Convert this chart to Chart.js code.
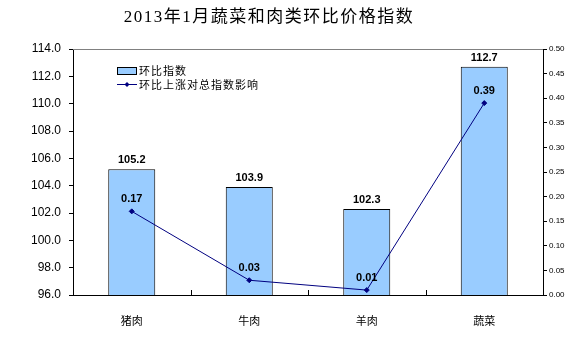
<!DOCTYPE html>
<html lang="zh">
<head>
    <meta charset="UTF-8">
    <title>2013年1月蔬菜和肉类环比价格指数</title>
    <script src="https://cdn.jsdelivr.net/npm/chart.js"></script>
    <style>
        html, body { margin: 0; padding: 0; background: #fff; }
        #wrap { width: 579px; height: 339px; position: relative; }
    </style>
</head>
<body>
    <div id="wrap"><canvas id="priceChart" width="579" height="339"></canvas></div>

    <script>
        // chart data
        const categories = ['猪肉', '牛肉', '羊肉', '蔬菜'];
        const indexValues = [105.2, 103.9, 102.3, 112.7];
        const impactValues = [0.17, 0.03, 0.01, 0.39];
        const titleText = '2013年1月蔬菜和肉类环比价格指数';
        const barLabel = '环比指数';
        const lineLabel = '环比上涨对总指数影响';

        const barFill = '#99CCFF';
        const lineColor = '#000080';
        const cjk = '"Noto Sans CJK SC", sans-serif';
        const latin = '"Liberation Sans", Arial, sans-serif';

        // title, frame, inside ticks, value labels and legend
        const decor = {
            id: 'decor',
            afterDraw(chart) {
                const c = chart.ctx;
                const a = chart.chartArea;
                c.save();

                // title
                c.fillStyle = '#000';
                c.font = '17px "Liberation Serif", "Noto Sans CJK SC", serif';
                c.letterSpacing = '1.5px';
                c.textAlign = 'center';
                c.textBaseline = 'middle';
                c.fillText(titleText, 269, 18);
                c.letterSpacing = '0px';

                // top frame line
                c.strokeStyle = '#808080';
                c.lineWidth = 1;
                c.beginPath();
                c.moveTo(a.left, a.top + 0.5);
                c.lineTo(a.right, a.top + 0.5);
                c.stroke();

                // category separators on x axis
                c.strokeStyle = '#000';
                const xs = chart.scales.x;
                for (let i = 1; i < categories.length; i++) {
                    const x = Math.round((xs.getPixelForValue(i - 1) + xs.getPixelForValue(i)) / 2) + 0.5;
                    c.beginPath();
                    c.moveTo(x, a.bottom);
                    c.lineTo(x, a.bottom - 5);
                    c.stroke();
                }

                // value labels
                c.font = 'bold 11px ' + latin;
                c.fillStyle = '#000';
                chart.getDatasetMeta(1).data.forEach((bar, i) => {
                    c.fillText(indexValues[i].toFixed(1), bar.x, bar.y - 9);
                });
                chart.getDatasetMeta(0).data.forEach((pt, i) => {
                    c.fillText(impactValues[i].toFixed(2), pt.x, pt.y - 12);
                });

                // legend
                c.textAlign = 'left';
                c.font = '11px ' + cjk;
                c.letterSpacing = '1px';
                c.fillStyle = barFill;
                c.fillRect(117.5, 67.5, 19, 7);
                c.strokeStyle = '#000';
                c.strokeRect(117.5, 67.5, 19, 7);
                c.fillStyle = '#000';
                c.fillText(barLabel, 139, 71);

                c.strokeStyle = lineColor;
                c.fillStyle = lineColor;
                c.beginPath();
                c.moveTo(117, 84.5);
                c.lineTo(137, 84.5);
                c.stroke();
                c.beginPath();
                c.moveTo(127, 82);
                c.lineTo(129.5, 84.5);
                c.lineTo(127, 87);
                c.lineTo(124.5, 84.5);
                c.closePath();
                c.fill();
                c.fillStyle = '#000';
                c.fillText(lineLabel, 139, 85);

                c.restore();
            }
        };

        const ctx = document.getElementById('priceChart').getContext('2d');
        new Chart(ctx, {
            data: {
                labels: categories,
                datasets: [
                    {
                        type: 'line',
                        label: lineLabel,
                        data: impactValues,
                        yAxisID: 'y1',
                        borderColor: lineColor,
                        backgroundColor: lineColor,
                        borderWidth: 1,
                        pointStyle: 'rectRot',
                        pointRadius: 2.5,
                        tension: 0,
                        order: 0
                    },
                    {
                        type: 'bar',
                        label: barLabel,
                        data: indexValues,
                        yAxisID: 'y',
                        backgroundColor: barFill,
                        borderColor: '#000',
                        borderWidth: 1,
                        categoryPercentage: 1,
                        barPercentage: 0.4,
                        order: 1
                    }
                ]
            },
            options: {
                responsive: false,
                animation: false,
                devicePixelRatio: 1,
                layout: { padding: { top: 49, left: 0, right: 0, bottom: 0 } },
                plugins: {
                    legend: { display: false },
                    title: { display: false },
                    tooltip: { enabled: false }
                },
                scales: {
                    x: {
                        offset: true,
                        grid: { display: false },
                        border: { color: '#000' },
                        ticks: {
                            color: '#000',
                            padding: 11,
                            font: { family: cjk, size: 11 }
                        },
                        afterFit(scale) { scale.height = 44; }
                    },
                    y: {
                        position: 'left',
                        min: 96,
                        max: 114,
                        grid: { drawOnChartArea: false, tickLength: 4, color: '#000' },
                        border: { color: '#000' },
                        ticks: {
                            stepSize: 2,
                            color: '#000',
                            padding: 8,
                            font: { family: latin, size: 12 },
                            callback: v => v.toFixed(1)
                        },
                        afterFit(scale) { scale.width = 73; }
                    },
                    y1: {
                        position: 'right',
                        min: 0,
                        max: 0.5,
                        grid: { drawOnChartArea: false, tickLength: 4, color: '#000' },
                        border: { color: '#000' },
                        ticks: {
                            stepSize: 0.05,
                            color: '#000',
                            padding: 2,
                            font: { family: latin, size: 8 },
                            callback: v => v.toFixed(2)
                        },
                        afterFit(scale) { scale.width = 36; }
                    }
                }
            },
            plugins: [decor]
        });
    </script>
</body>
</html>
